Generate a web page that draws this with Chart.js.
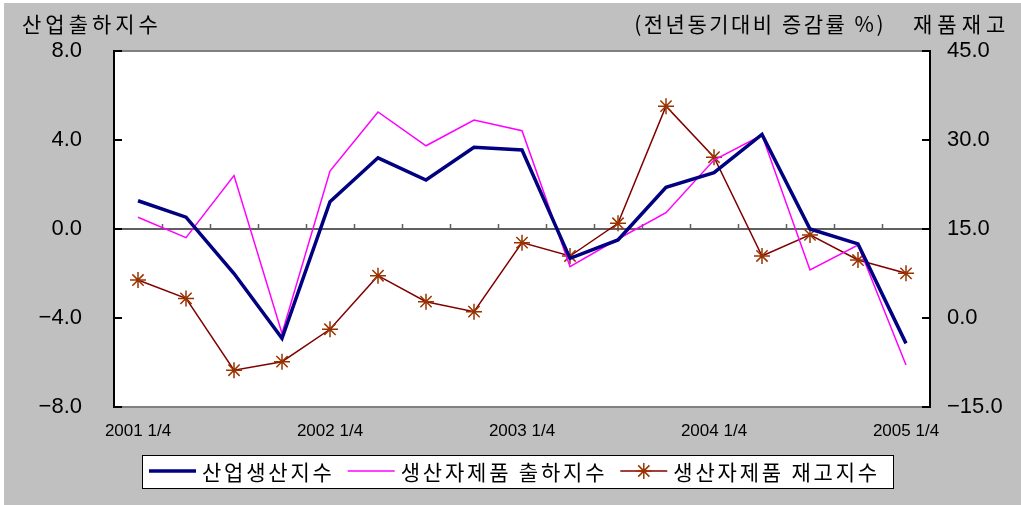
<!DOCTYPE html>
<html>
<head>
<meta charset="utf-8">
<script src="https://cdn.jsdelivr.net/npm/chart.js@4"></script>
<style>
  html, body { margin: 0; padding: 0; background: #fff; }
  #wrap { width: 1021px; height: 505px; }
</style>
</head>
<body>
<div id="wrap"><canvas id="chart" width="1021" height="505"></canvas></div>
<script>
// 분기
const quarters = ['2001 1/4','2001 2/4','2001 3/4','2001 4/4',
                  '2002 1/4','2002 2/4','2002 3/4','2002 4/4',
                  '2003 1/4','2003 2/4','2003 3/4','2003 4/4',
                  '2004 1/4','2004 2/4','2004 3/4','2004 4/4',
                  '2005 1/4'];
// 산업생산지수 (왼쪽 축)
const industrial = [1.27, 0.53, -2.0, -4.91, 1.23, 3.2, 2.2, 3.67, 3.55, -1.32, -0.49, 1.87, 2.53, 4.25, 0.0, -0.67, -5.14];
// 생산자제품 출하지수 (왼쪽 축)
const shipment = [0.53, -0.39, 2.4, -4.69, 2.6, 5.26, 3.74, 4.9, 4.42, -1.69, -0.45, 0.73, 3.1, 4.22, -1.84, -0.72, -6.11];
// 생산자제품 재고지수 (오른쪽 축)
const inventory = [6.4, 3.3, -8.8, -7.36, -1.9, 7.13, 2.75, 1.07, 12.7, 10.45, 15.96, 35.7, 27.1, 10.45, 14.0, 9.77, 7.53];
const seriesNames = ['산업생산지수', '생산자제품 출하지수', '생산자제품 재고지수'];
// 축 범위
const leftTicks = [-8, -4, 0, 4, 8];
const rightTicks = [-15, 0, 15, 30, 45];

const numFont = "'Liberation Sans', Arial, sans-serif";
const korFont = "'Noto Sans CJK KR', 'Liberation Sans', sans-serif";

function fmt(v) {
  return (v < 0 ? '\u2212' : '') + Math.abs(v).toFixed(1);
}

// 배경, 제목, 범례
const decor = {
  id: 'decor',
  beforeDraw(chart) {
    const ctx = chart.ctx, a = chart.chartArea;
    ctx.save();
    ctx.fillStyle = '#ffffff';
    ctx.fillRect(0, 0, chart.width, chart.height);
    ctx.fillStyle = '#c0c0c0';
    ctx.fillRect(4, 3, chart.width - 4, chart.height - 3);
    ctx.fillStyle = '#ffffff';
    ctx.fillRect(a.left, a.top, a.right - a.left, a.bottom - a.top);
    ctx.restore();
  },
  beforeDatasetsDraw(chart) {
    const ctx = chart.ctx, a = chart.chartArea;
    const y0 = chart.scales.y.getPixelForValue(0);
    ctx.save();
    ctx.strokeStyle = '#606060';
    ctx.lineWidth = 2;
    ctx.beginPath();
    ctx.moveTo(a.left, y0); ctx.lineTo(a.right, y0);
    ctx.stroke();
    ctx.lineWidth = 1.5;
    const n = quarters.length, w = (a.right - a.left) / n;
    ctx.beginPath();
    for (let i = 1; i < n; i++) {
      const x = Math.round(a.left + i * w) + 0.5;
      ctx.moveTo(x, y0); ctx.lineTo(x, y0 - 5);
    }
    ctx.stroke();
    ctx.restore();
  },
  afterDraw(chart) {
    const ctx = chart.ctx, a = chart.chartArea;
    ctx.save();
    // 위, 아래 테두리
    ctx.strokeStyle = '#808080';
    ctx.lineWidth = 2;
    ctx.beginPath();
    ctx.moveTo(a.left, a.top); ctx.lineTo(a.right, a.top);
    ctx.moveTo(a.left, a.bottom); ctx.lineTo(a.right, a.bottom);
    ctx.stroke();
    // 안쪽 눈금
    ctx.strokeStyle = '#000';
    ctx.beginPath();
    leftTicks.forEach(v => {
      const y = chart.scales.y.getPixelForValue(v);
      ctx.moveTo(a.left, y); ctx.lineTo(a.left + 8, y);
    });
    rightTicks.forEach(v => {
      const y = chart.scales.y2.getPixelForValue(v);
      ctx.moveTo(a.right - 8, y); ctx.lineTo(a.right, y);
    });
    ctx.stroke();

    // 제목
    ctx.fillStyle = '#000';
    ctx.textBaseline = 'middle';
    ctx.font = '21px ' + korFont;
    ctx.textAlign = 'left';
    ctx.letterSpacing = '4px';
    ctx.fillText('산업출하지수', 22, 24);
    ctx.letterSpacing = '5px';
    ctx.fillText('재품재고', 913, 24);
    ctx.textAlign = 'right';
    ctx.letterSpacing = '2.5px';
    ctx.fillText('(전년동기대비 증감률 %)', 886, 24);

    // 범례
    ctx.letterSpacing = '0px';
    ctx.fillStyle = '#fff';
    ctx.fillRect(142, 455, 751, 33);
    ctx.strokeStyle = '#000';
    ctx.lineWidth = 1;
    ctx.strokeRect(142.5, 455.5, 751, 33);
    ctx.font = '21px ' + korFont;
    ctx.textAlign = 'left';
    const ly = 471;
    let x = 149;
    chart.data.datasets.forEach((ds, i) => {
      ctx.letterSpacing = '0px';
      ctx.strokeStyle = ds.borderColor;
      ctx.lineWidth = ds.borderWidth;
      ctx.beginPath();
      ctx.moveTo(x, ly); ctx.lineTo(x + 47, ly);
      ctx.stroke();
      if (ds.pointRadius > 0) {
        ctx.strokeStyle = ds.pointBorderColor;
        ctx.lineWidth = 1.5;
        const cx = x + 23.5, r = 8;
        ctx.beginPath();
        ctx.moveTo(cx, ly - r); ctx.lineTo(cx, ly + r);
        ctx.moveTo(cx - r, ly); ctx.lineTo(cx + r, ly);
        ctx.moveTo(cx - r * 0.7, ly - r * 0.7); ctx.lineTo(cx + r * 0.7, ly + r * 0.7);
        ctx.moveTo(cx - r * 0.7, ly + r * 0.7); ctx.lineTo(cx + r * 0.7, ly - r * 0.7);
        ctx.stroke();
      }
      ctx.fillStyle = '#000';
      ctx.letterSpacing = '2.8px';
      ctx.fillText(ds.label, x + 53, ly + 1);
      x = x + 53 + ctx.measureText(ds.label).width + 13;
    });
    ctx.restore();
  }
};

const chart = new Chart(document.getElementById('chart'), {
  type: 'line',
  data: {
    labels: quarters,
    datasets: [
      {
        label: seriesNames[0],
        data: industrial,
        yAxisID: 'y',
        borderColor: '#000080',
        borderWidth: 3.5,
        pointRadius: 0,
        tension: 0
      },
      {
        label: seriesNames[1],
        data: shipment,
        yAxisID: 'y',
        borderColor: '#ff00ff',
        borderWidth: 1.5,
        pointRadius: 0,
        tension: 0
      },
      {
        label: seriesNames[2],
        data: inventory,
        yAxisID: 'y2',
        borderColor: '#800000',
        borderWidth: 1.5,
        pointStyle: 'star',
        pointRadius: 8,
        pointBorderColor: '#993300',
        pointBorderWidth: 1.5,
        pointHoverRadius: 8,
        tension: 0
      }
    ]
  },
  options: {
    responsive: false,
    animation: false,
    events: [],
    layout: { padding: { top: 51, left: 0, right: 0, bottom: 0 } },
    plugins: {
      legend: { display: false },
      tooltip: { enabled: false }
    },
    scales: {
      x: {
        offset: true,
        grid: { display: false, drawTicks: false },
        border: { display: false },
        afterFit(s) { s.height = 98; },
        ticks: {
          autoSkip: false,
          maxRotation: 0,
          padding: 14,
          color: '#000',
          font: { family: numFont, size: 17 },
          callback: (v, i) => (i % 4 === 0 ? quarters[i] : '')
        }
      },
      y: {
        position: 'left',
        min: -8, max: 8,
        grid: { display: false, drawTicks: false },
        border: { display: true, color: '#000', width: 2 },
        afterFit(s) { s.width = 114; },
        ticks: {
          stepSize: 4,
          padding: 32,
          color: '#000',
          font: { family: numFont, size: 22 },
          callback: v => fmt(v)
        }
      },
      y2: {
        position: 'right',
        min: -15, max: 45,
        grid: { display: false, drawTicks: false },
        border: { display: true, color: '#000', width: 2 },
        afterFit(s) { s.width = 91; },
        ticks: {
          stepSize: 15,
          padding: 17,
          color: '#000',
          font: { family: numFont, size: 22 },
          callback: v => fmt(v)
        }
      }
    }
  },
  plugins: [decor]
});
</script>
</body>
</html>
